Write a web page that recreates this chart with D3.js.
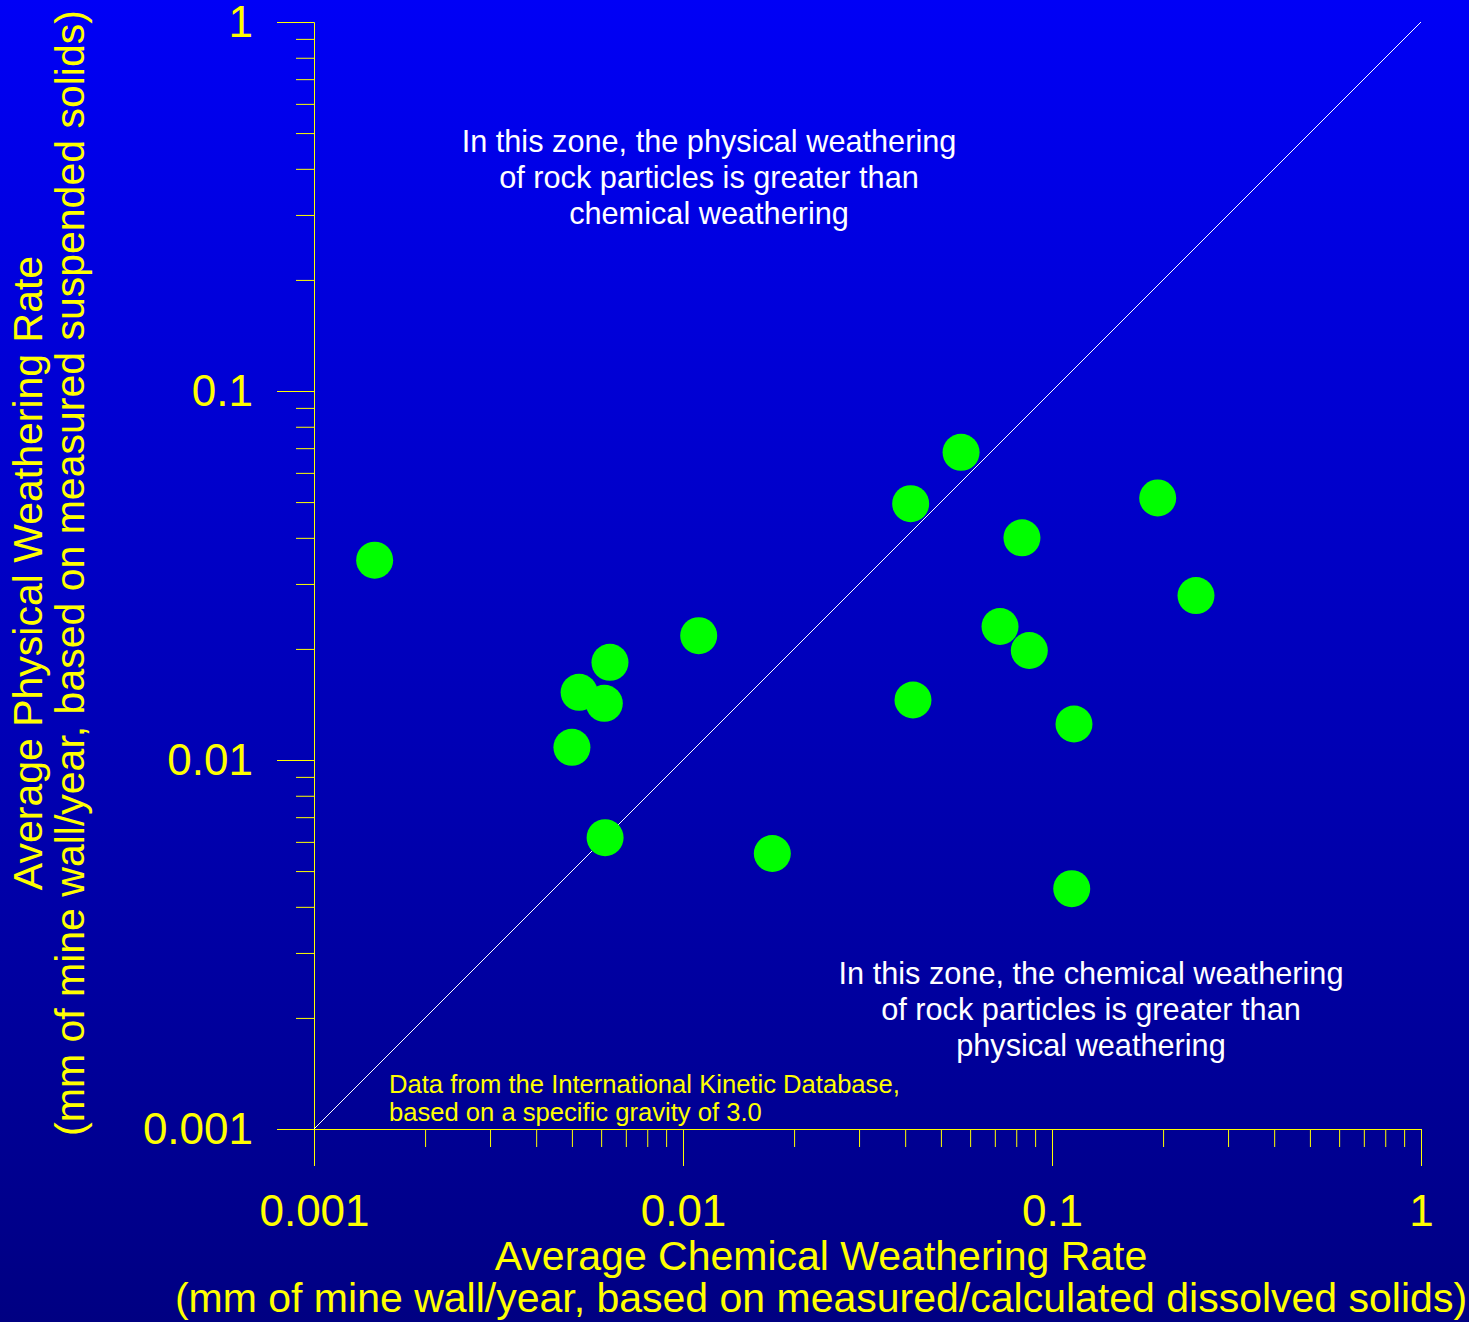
<!DOCTYPE html>
<html>
<head>
<meta charset="utf-8">
<script src="https://cdn.jsdelivr.net/npm/d3@7"></script>
<style>
  html, body { margin: 0; padding: 0; background: #000080; }
  svg { display: block; }
  text { font-family: "Liberation Sans", Arial, Helvetica, sans-serif; }
</style>
</head>
<body>
<svg id="chart" width="1469" height="1322"></svg>
<script>
// ---- data ----
const chemicalRate = [0.00146, 0.0567, 0.0414, 0.1934, 0.0829, 0.2456, 0.0723, 0.0868, 0.0420, 0.1147, 0.1131, 0.01103, 0.00634, 0.00523, 0.00612, 0.00500, 0.00615, 0.01746];
const physicalRate = [0.0348, 0.0682, 0.0495, 0.0513, 0.0400, 0.0279, 0.0230, 0.0198, 0.01454, 0.01252, 0.00448, 0.02172, 0.01839, 0.01525, 0.01424, 0.01082, 0.00616, 0.00558];
const majorTicks = [0.001, 0.01, 0.1, 1];
const tickLabels = ["0.001", "0.01", "0.1", "1"];
const minorTicks = [2,3,4,5,6,7,8,9].flatMap(m => [0.001, 0.01, 0.1].map(d => +(m * d).toPrecision(3)));
const equalityLine = [0.001, 1];
const xTitle = ["Average Chemical Weathering Rate", "(mm of mine wall/year, based on measured/calculated dissolved solids)"];
const yTitle = ["Average Physical Weathering Rate", "(mm of mine wall/year, based on measured suspended solids)"];
const upperNote = ["In this zone, the physical weathering", "of rock particles is greater than", "chemical weathering"];
const lowerNote = ["In this zone, the chemical weathering", "of rock particles is greater than", "physical weathering"];
const sourceNote = ["Data from the International Kinetic Database,", "based on a specific gravity of 3.0"];

// ---- layout ----
const W = 1469, H = 1322;
const svg = d3.select("#chart");

const defs = svg.append("defs");
const grad = defs.append("linearGradient").attr("id", "bg").attr("x1", 0).attr("y1", 0).attr("x2", 0).attr("y2", 1);
grad.append("stop").attr("offset", "0%").attr("stop-color", "#0000f6");
grad.append("stop").attr("offset", "100%").attr("stop-color", "#000082");
svg.append("rect").attr("width", W).attr("height", H).attr("fill", "url(#bg)");

const x = d3.scaleLog().domain([0.001, 1]).range([314, 1421]);
const y = d3.scaleLog().domain([0.001, 1]).range([1129, 22]);

const axisColor = "#ffff00";
const labelIndex = v => majorTicks.indexOf(v);

// minor ticks
svg.append("g").attr("transform", "translate(0,1129)")
  .call(d3.axisBottom(x).tickValues(minorTicks).tickSize(18).tickSizeOuter(0).tickFormat(""));
svg.append("g").attr("transform", "translate(314,0)")
  .call(d3.axisLeft(y).tickValues(minorTicks).tickSize(18).tickSizeOuter(0).tickFormat(""));

// major ticks with labels
const xAxisG = svg.append("g").attr("transform", "translate(0,1129)")
  .call(d3.axisBottom(x).tickValues(majorTicks).tickSize(37).tickSizeOuter(0).tickPadding(29)
    .tickFormat(v => tickLabels[labelIndex(v)]));
const yAxisG = svg.append("g").attr("transform", "translate(314,0)")
  .call(d3.axisLeft(y).tickValues(majorTicks).tickSize(37).tickSizeOuter(0).tickPadding(24)
    .tickFormat(v => tickLabels[labelIndex(v)]));

svg.selectAll(".domain, .tick line").attr("stroke", axisColor).attr("stroke-width", 1);
[xAxisG, yAxisG].forEach(g => g.selectAll(".tick text")
  .attr("fill", axisColor).style("font-size", "44px")
  .style("font-family", '"Liberation Sans", Arial, sans-serif'));

// equality line
svg.append("path")
  .datum(equalityLine)
  .attr("d", d3.line().x(d => x(d)).y(d => y(d)))
  .attr("stroke", "#ffffff").attr("stroke-width", 1).attr("fill", "none");

// points
svg.append("g").selectAll("circle")
  .data(chemicalRate.map((c, i) => ({ c, p: physicalRate[i] })))
  .join("circle")
  .attr("cx", d => x(d.c)).attr("cy", d => y(d.p)).attr("r", 18.5)
  .attr("fill", "#00ff00");

// annotations
function lines(arr, cx, y0, dy, size, color, anchor) {
  const t = svg.append("text").attr("fill", color).style("font-size", size + "px").attr("text-anchor", anchor);
  arr.forEach((s, i) => t.append("tspan").attr("x", cx).attr("y", y0 + i * dy).text(s));
  return t;
}
lines(upperNote, 709, 152, 36, 30.7, "#ffffff", "middle");
lines(lowerNote, 1091, 984, 36, 30.7, "#ffffff", "middle");
lines(sourceNote, 389, 1093, 28, 25.6, "#ffff00", "start");

// axis titles
lines(xTitle, 821, 1270, 42, 41, "#ffff00", "middle");
const yt = svg.append("text").attr("fill", "#ffff00").style("font-size", "41px")
  .attr("text-anchor", "middle").attr("transform", "translate(0,573) rotate(-90)");
yTitle.forEach((s, i) => yt.append("tspan").attr("x", 0).attr("y", 42 + i * 42).text(s));
</script>
</body>
</html>
